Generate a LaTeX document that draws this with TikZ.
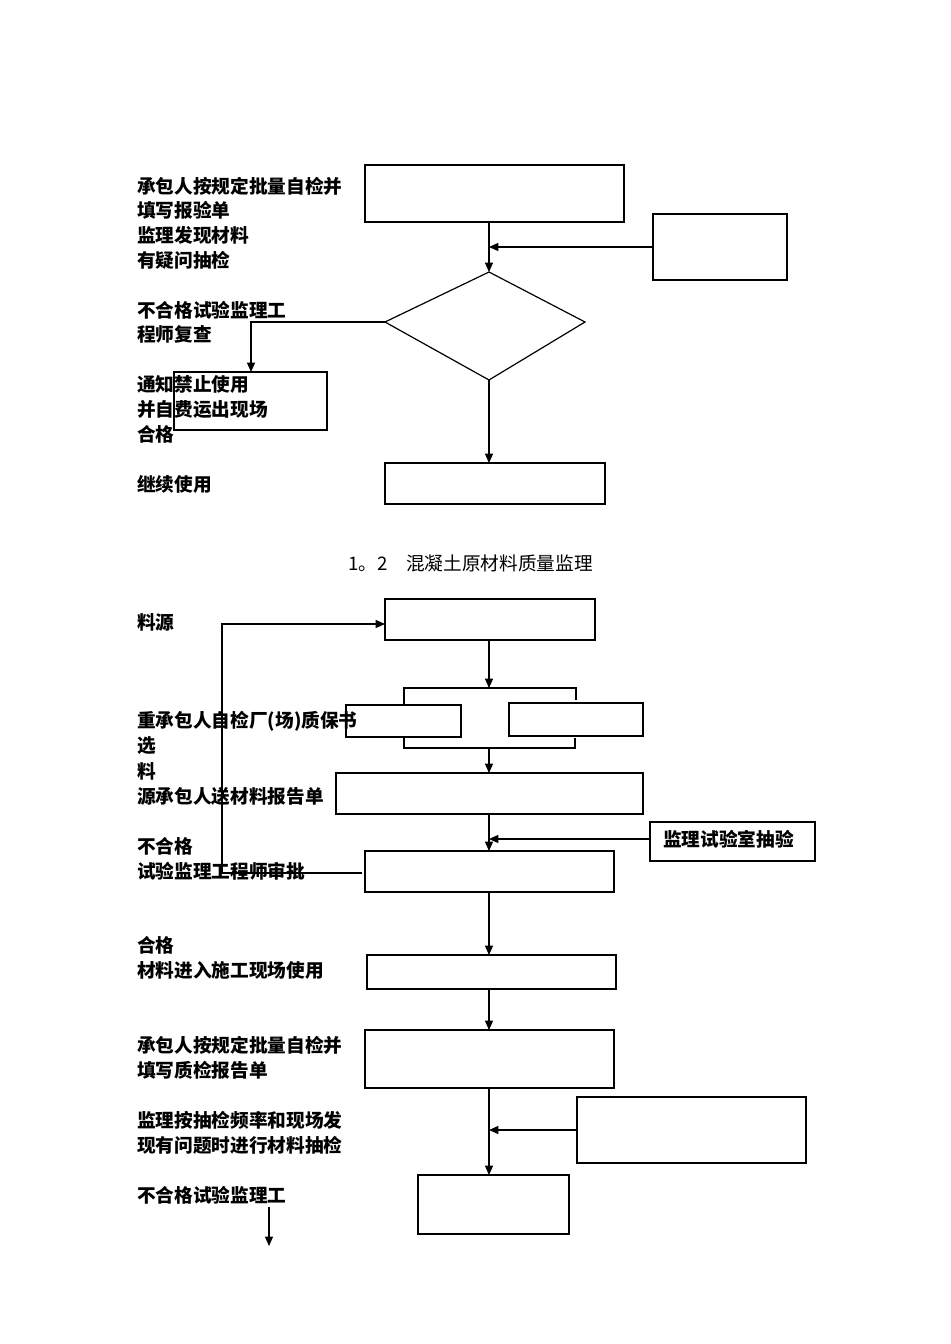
\documentclass[tikz,border=0pt]{standalone}
\usepackage{fontspec}
\setmainfont{Noto Sans CJK SC}
\usetikzlibrary{arrows.meta}
\begin{document}
\begin{tikzpicture}[x=0.75pt,y=-0.75pt,
  bx/.style={draw,line width=0.9pt},
  ln/.style={line width=0.9pt},
  ar/.style={line width=0.9pt,-{Triangle[length=7pt,width=6pt]}},
  tx/.style={anchor=west,inner sep=0pt,font=\fontsize{14pt}{16pt}\selectfont\bfseries}]
\useasboundingbox (0,0) rectangle (950,1344);
% part 1 boxes
\draw[bx] (365,165) rectangle (624,222) coordinate[pos=0.5] (b1);
\coordinate (b1s) at (489,222);
\draw[bx] (653,214) rectangle (787,280);
\coordinate (b2w) at (653,247);
\coordinate (dt) at (489,272); \coordinate (dl) at (385,322);
\coordinate (dr) at (585,322); \coordinate (db) at (489,380);
\draw[ln] (dt) -- (dr) -- (db) -- (dl) -- cycle;
\draw[bx] (174,372) rectangle (327,430);
\coordinate (b3n) at (251,372);
\draw[bx] (385,463) rectangle (605,504);
\coordinate (b4n) at (489,463);
\coordinate (m1) at (489,247);
\draw[ar] (b1s) -- (dt);
\draw[ar] (b2w) -- (m1);
\draw[ar] (dl) -| (b3n);
\draw[ar] (db) -- (b4n);
% part 1 text
\foreach \y/\t in {186/承包人按规定批量自检并,210/填写报验单,235/监理发现材料,260/有疑问抽检,310/不合格试验监理工,334/程师复查,384/通知禁止使用,409/并自费运出现场,434/合格,484/继续使用}
  \node[tx] at (137,\y) {\t};
\node[anchor=west,inner sep=0pt,font=\fontsize{14pt}{16pt}\selectfont] at (348,563) {1。2\quad 混凝土原材料质量监理};
% part 2
\draw[bx] (385,599) rectangle (595,640);
\coordinate (c1s) at (489,640); \coordinate (c1w) at (385,624);
\coordinate (bt) at (489,688);
\draw[ar] (c1s) -- (bt);
\draw[ln] (404,705) -- (404,688) -- (576,688) -- (576,700);
\draw[bx] (346,705) rectangle (461,737);
\draw[bx] (509,703) rectangle (643,736);
\draw[ln] (404,737) -- (404,748) -- (575,748) -- (575,738);
\coordinate (bb) at (489,748);
\draw[bx] (336,773) rectangle (643,814);
\coordinate (c4n) at (489,773); \coordinate (c4s) at (489,814);
\draw[ar] (bb) -- (c4n);
\draw[bx] (650,822) rectangle (815,861);
\node[tx] at (663,839) {监理试验室抽验};
\coordinate (c5w) at (650,839); \coordinate (m2) at (489,839);
\draw[bx] (365,851) rectangle (614,892);
\coordinate (c6n) at (489,851); \coordinate (c6s) at (489,892); \coordinate (c6w) at (362,873);
\draw[ar] (c4s) -- (c6n);
\draw[ar] (c5w) -- (m2);
\coordinate (fb) at (222,873);
\draw[ar] (c6w) -- (fb) |- (c1w);
\draw[bx] (367,955) rectangle (616,989);
\coordinate (c7n) at (489,955); \coordinate (c7s) at (489,989);
\draw[ar] (c6s) -- (c7n);
\draw[bx] (365,1030) rectangle (614,1088);
\coordinate (c8n) at (489,1030); \coordinate (c8s) at (489,1088);
\draw[ar] (c7s) -- (c8n);
\draw[bx] (577,1097) rectangle (806,1163);
\coordinate (c9w) at (577,1130); \coordinate (m3) at (489,1130);
\draw[bx] (418,1175) rectangle (569,1234);
\coordinate (c10n) at (489,1175);
\draw[ar] (c8s) -- (c10n);
\draw[ar] (c9w) -- (m3);
\coordinate (e1) at (269,1207); \coordinate (e2) at (269,1246);
\draw[ar] (e1) -- (e2);
\foreach \y/\t in {622/料源,721/重承包人自检厂(场)质保书,746/选,771/料,796/源承包人送材料报告单,846/不合格,871/试验监理工程师审批,945/合格,970/材料进入施工现场使用,1045/承包人按规定批量自检并,1070/填写质检报告单,1120/监理按抽检频率和现场发,1145/现有问题时进行材料抽检,1195/不合格试验监理工}
  \node[tx] at (137,\y) {\t};
\end{tikzpicture}
\end{document}
